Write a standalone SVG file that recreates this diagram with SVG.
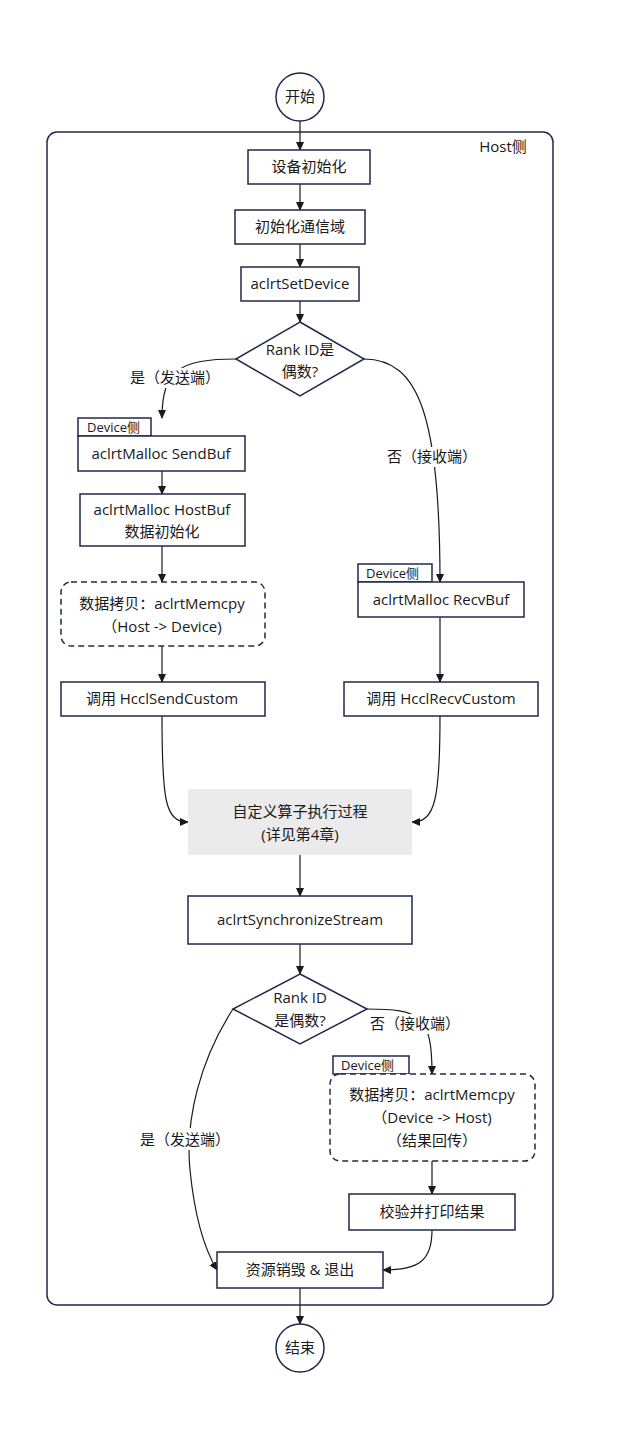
<svg xmlns="http://www.w3.org/2000/svg" width="624" height="1453" viewBox="0 0 624 1453">
<defs>
<marker id="ah" markerWidth="10" markerHeight="10" refX="8" refY="5" orient="auto" markerUnits="userSpaceOnUse"><path d="M0,1 L9,5 L0,9 Z" fill="#1a1a1a"/></marker>
<style>
.b{fill:#fff;stroke:#1e2a4a;stroke-width:1.5}
.d{fill:#fff;stroke:#1e2a4a;stroke-width:1.5;stroke-dasharray:6,4}
.t{font-family:"Open Sans","Noto Sans CJK SC",sans-serif;font-size:15px;fill:#1a1a1a;text-anchor:middle}
.s{font-family:"Open Sans","Noto Sans CJK SC",sans-serif;font-size:13px;fill:#1a1a1a}
.c{fill:none;stroke:#1a1a1a;stroke-width:1.2;marker-end:url(#ah)}
</style>
</defs>
<rect width="624" height="1453" fill="#fff"/>
<rect x="47" y="132" width="506" height="1173" rx="10" fill="none" stroke="#1e2a4a" stroke-width="1.5"/>
<text class="t" x="503" y="152">Host侧</text>
<g id="connectors">
<path class="c" d="M300,121 V150"/>
<path class="c" d="M300,184 V210"/>
<path class="c" d="M300,244 V267"/>
<path class="c" d="M300,301 V322"/>
<path class="c" d="M236,359 C180,359 162,370 162,418"/>
<path class="c" d="M364,359 C420,359 440,420 440,582"/>
<path class="c" d="M162,471 V494"/>
<path class="c" d="M162,546 V582"/>
<path class="c" d="M162,646 V682"/>
<path class="c" d="M440,617 V682"/>
<path class="c" d="M162,716 C162,800 165,822 188,822"/>
<path class="c" d="M440,716 C440,800 435,822 412,822"/>
<path class="c" d="M300,855 V896"/>
<path class="c" d="M300,944 V974"/>
<path class="c" d="M367,1009 C420,1009 432,1015 432,1074"/>
<path class="c" d="M432,1161 V1194"/>
<path class="c" d="M233,1009 C200,1060 185,1120 190,1170 C195,1220 205,1250 217,1270"/>
<path class="c" d="M432,1230 C432,1260 420,1270 383,1270"/>
<path class="c" d="M300,1288 V1324"/>
</g>
<rect x="120" y="368" width="110" height="20" fill="#fff"/>
<text class="t" x="175" y="383">是（发送端）</text>
<rect x="385" y="447" width="96" height="20" fill="#fff"/>
<text class="t" x="432" y="462">否（接收端）</text>
<rect x="368" y="1014" width="96" height="20" fill="#fff"/>
<text class="t" x="415" y="1029">否（接收端）</text>
<rect x="138" y="1128" width="96" height="22" fill="#fff"/>
<text class="t" x="185" y="1145">是（发送端）</text>
<g id="start"><circle class="b" cx="300" cy="97" r="24"/><text class="t" x="300" y="102">开始</text></g>
<g id="n1"><rect class="b" x="248" y="150" width="122" height="34"/><text class="t" x="309" y="172">设备初始化</text></g>
<g id="n2"><rect class="b" x="235" y="210" width="130" height="34"/><text class="t" x="300" y="232">初始化通信域</text></g>
<g id="n3"><rect class="b" x="241" y="267" width="118" height="34"/><text class="t" x="300" y="289">aclrtSetDevice</text></g>
<g id="d1"><polygon class="b" points="300,322 364,359 300,396 236,359"/><text class="t" x="300" y="355">Rank ID是</text><text class="t" x="300" y="377">偶数?</text></g>
<g id="n4"><rect class="b" x="78" y="418" width="73" height="18"/><text class="s" x="87" y="432">Device侧</text><rect class="b" x="78" y="436" width="167" height="35"/><text class="t" x="161" y="459">aclrtMalloc SendBuf</text></g>
<g id="n5"><rect class="b" x="80" y="494" width="165" height="52"/><text class="t" x="162" y="515">aclrtMalloc HostBuf</text><text class="t" x="162" y="537">数据初始化</text></g>
<g id="n6"><rect class="d" x="61" y="582" width="204" height="64" rx="10"/><text class="t" x="162" y="609">数据拷贝：aclrtMemcpy</text><text class="t" x="162" y="632">（Host -&gt; Device)</text></g>
<g id="n7"><rect class="b" x="61" y="682" width="204" height="34"/><text class="t" x="162" y="704">调用 HcclSendCustom</text></g>
<g id="n8"><rect class="b" x="358" y="564" width="74" height="18"/><text class="s" x="366" y="578">Device侧</text><rect class="b" x="358" y="582" width="166" height="35"/><text class="t" x="441" y="605">aclrtMalloc RecvBuf</text></g>
<g id="n9"><rect class="b" x="344" y="682" width="194" height="34"/><text class="t" x="441" y="704">调用 HcclRecvCustom</text></g>
<g id="n10"><rect x="188" y="789" width="224" height="66" fill="#ebebeb"/><text class="t" x="300" y="817">自定义算子执行过程</text><text class="t" x="300" y="840">(详见第4章)</text></g>
<g id="n11"><rect class="b" x="188" y="896" width="224" height="48"/><text class="t" x="300" y="925">aclrtSynchronizeStream</text></g>
<g id="d2"><polygon class="b" points="300,974 367,1009 300,1044 233,1009"/><text class="t" x="300" y="1003">Rank ID</text><text class="t" x="300" y="1026">是偶数?</text></g>
<g id="n12"><rect class="b" x="333" y="1056" width="76" height="18"/><text class="s" x="341" y="1070">Device侧</text><rect class="d" x="330" y="1074" width="205" height="87" rx="10"/><text class="t" x="432" y="1100">数据拷贝：aclrtMemcpy</text><text class="t" x="432" y="1123">（Device -&gt; Host)</text><text class="t" x="432" y="1146">（结果回传）</text></g>
<g id="n13"><rect class="b" x="349" y="1194" width="166" height="36"/><text class="t" x="432" y="1217">校验并打印结果</text></g>
<g id="n14"><rect class="b" x="217" y="1252" width="166" height="36"/><text class="t" x="300" y="1275">资源销毁 &amp; 退出</text></g>
<g id="end"><circle class="b" cx="300" cy="1348" r="24"/><text class="t" x="300" y="1353">结束</text></g>
</svg>
